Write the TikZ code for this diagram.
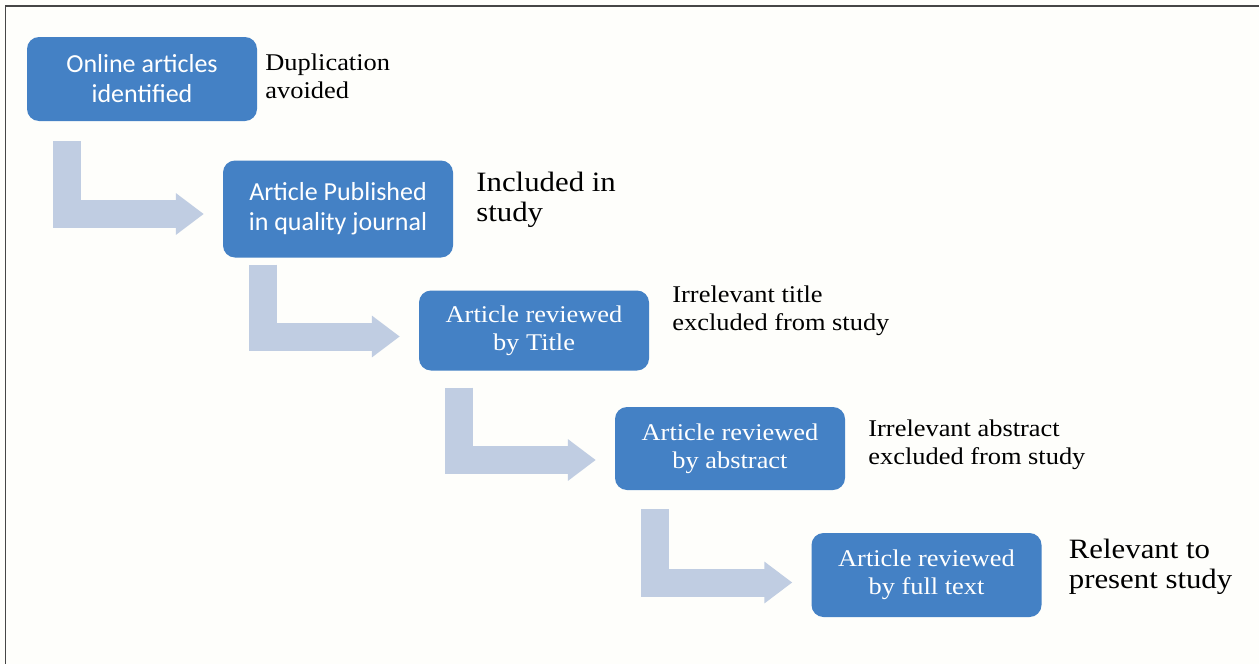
\documentclass[tikz,border=0pt]{standalone}
\usepackage{fontspec}
\usepackage{tikz}
\usepackage{xcolor}
\usetikzlibrary{positioning,arrows.meta,calc}

\newfontfamily\boxsans{Carlito}
\newfontfamily\boxserif{Liberation Serif}[FakeStretch=1.1]

\definecolor{stageblue}{RGB}{68,129,197}
\definecolor{flowblue}{RGB}{192,205,226}
\definecolor{framegray}{RGB}{70,70,70}
\definecolor{paper}{RGB}{254,254,251}

\begin{document}
\begin{tikzpicture}[
  x=1pt,y=-1pt,
  stage/.style={fill=stageblue,rounded corners=12pt,minimum width=230pt,text=white,align=center,inner sep=0pt},
  sanstxt/.style={font=\boxsans\fontsize{26}{30}\selectfont},
  seriftxt/.style={font=\boxserif\fontsize{24}{28}\selectfont},
  note/.style={anchor=west,align=left,inner sep=0pt,font=\boxserif\fontsize{24}{28}\selectfont},
  bignote/.style={note,font=\boxserif\fontsize{28}{30}\selectfont},
  flow/.style={draw=flowblue,line width=28pt,-{Triangle[length=28pt,width=40pt]}},
  frame/.style={draw=framegray,line width=1.5pt}
]
\useasboundingbox[fill=paper] (0,0) rectangle (1259,664);
\draw[frame] (5.5,664) -- (5.5,6) -- (1259,6);

% stages
\node[stage,sanstxt,minimum height=84pt] (b1) at (142,79) {Online articles\\identified};
\node[stage,sanstxt,minimum height=97pt] (b2) at (338,209) {Article Published\\in quality journal};
\node[stage,seriftxt,minimum height=80pt] (b3) at (534,330.5) {Article reviewed\\by Title};
\node[stage,seriftxt,minimum height=83pt] (b4) at (730,448.5) {Article reviewed\\by abstract};
\node[stage,seriftxt,minimum height=84pt] (b5) at (926.5,575) {Article reviewed\\by full text};

% side notes
\node[note] (n1) at ($(b1.east)+(8,-3)$) {Duplication\\avoided};
\node[bignote] (n2) at ($(b2.east)+(23,-9.5)$) {Included in\\study};
\node[note] (n3) at ($(b3.east)+(23,-19.5)$) {Irrelevant title\\excluded from study};
\node[note] (n4) at ($(b4.east)+(23,-3.5)$) {Irrelevant abstract\\excluded from study};
\node[bignote] (n5) at ($(b5.east)+(27,-8.5)$) {Relevant to\\present study};

% bent arrows
\draw[flow] ($(b1.south west)+(40,20)$) |- ($(b2.west)+(-19,5)$);
\draw[flow] ($(b2.south west)+(40,7)$) |- ($(b3.west)+(-19,6)$);
\draw[flow] ($(b3.south west)+(40,17)$) |- ($(b4.west)+(-19,11.5)$);
\draw[flow] ($(b4.south west)+(40,19)$) |- ($(b5.west)+(-19,7.5)$);
\end{tikzpicture}
\end{document}
